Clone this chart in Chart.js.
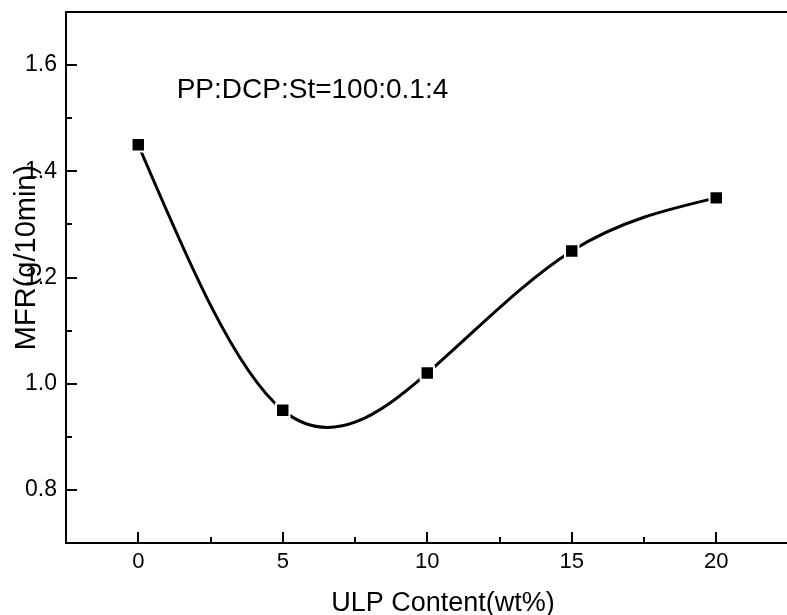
<!DOCTYPE html>
<html>
<head>
<meta charset="utf-8">
<script src="https://cdn.jsdelivr.net/npm/chart.js@4/dist/chart.umd.min.js"></script>
<style>
html,body{margin:0;padding:0;background:#fff;overflow:hidden;width:787px;height:615px;}
#wrap{position:absolute;left:0;top:0;width:800px;height:615px;}
</style>
</head>
<body>
<div id="wrap"><canvas id="c" width="800" height="615"></canvas></div>
<script>
const ulpContent = [0, 5, 10, 15, 20];
const mfrValues = [1.45, 0.95, 1.02, 1.25, 1.35];
const xTickValues = [0, 5, 10, 15, 20];
const xMinorValues = [2.5, 7.5, 12.5, 17.5];
const yTickValues = [0.8, 1.0, 1.2, 1.4, 1.6];
const yMinorValues = [0.9, 1.1, 1.3, 1.5];
const xTitle = 'ULP Content(wt%)';
const yTitle = 'MFR(g/10min)';
const noteText = 'PP:DCP:St=100:0.1:4';

const FONT = '"Liberation Sans", Arial, sans-serif';

// Natural cubic spline through the points Chart.js placed (pixel space),
// expressed as Bezier control points on the library's line element.
const naturalSpline = {
  id: 'naturalSpline',
  beforeDatasetDraw(chart, args) {
    const meta = chart.getDatasetMeta(args.index);
    const line = meta.dataset;
    const pts = meta.data;
    if (!line || pts.length < 3) return;
    line.updateControlPoints(chart.chartArea, 'x');
    const n = pts.length;
    const X = pts.map(p => p.x), Y = pts.map(p => p.y);
    const h = [];
    for (let i = 0; i < n - 1; i++) h.push(X[i + 1] - X[i]);
    // second derivatives M (natural: M0 = Mn-1 = 0), tridiagonal solve
    const a = new Array(n).fill(0), b = new Array(n).fill(1), c = new Array(n).fill(0), r = new Array(n).fill(0);
    for (let i = 1; i < n - 1; i++) {
      a[i] = h[i - 1]; b[i] = 2 * (h[i - 1] + h[i]); c[i] = h[i];
      r[i] = 6 * ((Y[i + 1] - Y[i]) / h[i] - (Y[i] - Y[i - 1]) / h[i - 1]);
    }
    for (let i = 1; i < n; i++) {
      const m = a[i] / b[i - 1];
      b[i] -= m * c[i - 1]; r[i] -= m * r[i - 1];
    }
    const M = new Array(n).fill(0);
    M[n - 1] = r[n - 1] / b[n - 1];
    for (let i = n - 2; i >= 0; i--) M[i] = (r[i] - c[i] * M[i + 1]) / b[i];
    M[0] = 0; M[n - 1] = 0;
    for (let i = 0; i < n - 1; i++) {
      const hi = h[i];
      const d0 = (Y[i + 1] - Y[i]) / hi - hi * (2 * M[i] + M[i + 1]) / 6;
      const d1 = (Y[i + 1] - Y[i]) / hi + hi * (M[i] + 2 * M[i + 1]) / 6;
      pts[i].cp2x = X[i] + hi / 3; pts[i].cp2y = Y[i] + d0 * hi / 3;
      pts[i + 1].cp1x = X[i + 1] - hi / 3; pts[i + 1].cp1y = Y[i + 1] - d1 * hi / 3;
    }
    pts[0].cp1x = X[0]; pts[0].cp1y = Y[0];
    pts[n - 1].cp2x = X[n - 1]; pts[n - 1].cp2y = Y[n - 1];
  }
};

const decor = {
  id: 'decor',
  afterDraw(chart) {
    const ctx = chart.ctx;
    const a = chart.chartArea;
    const xs = chart.scales.x, ys = chart.scales.y;
    ctx.save();
    ctx.strokeStyle = '#000';
    ctx.lineWidth = 2;
    ctx.beginPath();
    ctx.moveTo(a.left - 1, a.top);
    ctx.lineTo(a.right, a.top);
    ctx.lineTo(a.right, a.bottom);
    ctx.stroke();
    ctx.beginPath();
    xTickValues.forEach(v => { const p = Math.round(xs.getPixelForValue(v)); ctx.moveTo(p, a.bottom); ctx.lineTo(p, a.bottom - 11); });
    xMinorValues.forEach(v => { const p = Math.round(xs.getPixelForValue(v)); ctx.moveTo(p, a.bottom); ctx.lineTo(p, a.bottom - 6); });
    yTickValues.forEach(v => { const p = Math.round(ys.getPixelForValue(v)); ctx.moveTo(a.left, p); ctx.lineTo(a.left + 11, p); });
    yMinorValues.forEach(v => { const p = Math.round(ys.getPixelForValue(v)); ctx.moveTo(a.left, p); ctx.lineTo(a.left + 6, p); });
    ctx.stroke();
    ctx.fillStyle = '#000';
    ctx.textBaseline = 'alphabetic';
    ctx.textAlign = 'center';
    ctx.font = '27px ' + FONT;
    ctx.fillText(xTitle, 443, 611);
    ctx.save();
    ctx.translate(35, 257.5);
    ctx.rotate(-Math.PI / 2);
    ctx.font = '29px ' + FONT;
    ctx.fillText(yTitle, 0, 0);
    ctx.restore();
    ctx.textAlign = 'left';
    ctx.font = '28px ' + FONT;
    ctx.fillText(noteText, xs.getPixelForValue(1.33), ys.getPixelForValue(1.538));
    ctx.restore();
  }
};

new Chart(document.getElementById('c'), {
  type: 'line',
  data: {
    datasets: [{
      data: ulpContent.map((x, i) => ({x: x, y: mfrValues[i]})),
      borderColor: '#000',
      borderWidth: 3,
      tension: 0.4,
      capBezierPoints: false,
      fill: false,
      pointStyle: 'rect',
      pointRadius: 9.5,
      pointHoverRadius: 9.5,
      pointBackgroundColor: '#000',
      pointBorderColor: '#fff',
      pointBorderWidth: 2
    }]
  },
  options: {
    responsive: false,
    animation: false,
    devicePixelRatio: 1,
    events: [],
    layout: { padding: { left: 0, right: 3, top: 12, bottom: 0 } },
    plugins: { legend: { display: false }, tooltip: { enabled: false }, title: { display: false } },
    scales: {
      x: {
        type: 'linear',
        min: -2.5, max: 22.5,
        afterBuildTicks: s => { s.ticks = xTickValues.map(v => ({value: v})); },
        afterFit: s => { s.height = 72; s.paddingLeft = 0; s.paddingRight = 0; s.paddingTop = 0; s.paddingBottom = 0; },
        grid: { display: false, drawTicks: false },
        border: { display: true, color: '#000', width: 2 },
        ticks: { color: '#000', padding: 6, font: { family: FONT, size: 22 }, maxRotation: 0, autoSkip: false },
        title: { display: false }
      },
      y: {
        type: 'linear',
        min: 0.7, max: 1.7,
        afterBuildTicks: s => { s.ticks = yTickValues.map(v => ({value: v})); },
        afterFit: s => { s.width = 66; s.paddingLeft = 0; s.paddingRight = 0; s.paddingTop = 0; s.paddingBottom = 0; },
        grid: { display: false, drawTicks: false },
        border: { display: true, color: '#000', width: 2 },
        ticks: { color: '#000', padding: 9, font: { family: FONT, size: 23 }, callback: v => v.toFixed(1), autoSkip: false },
        title: { display: false }
      }
    }
  },
  plugins: [naturalSpline, decor]
});
</script>
</body>
</html>
